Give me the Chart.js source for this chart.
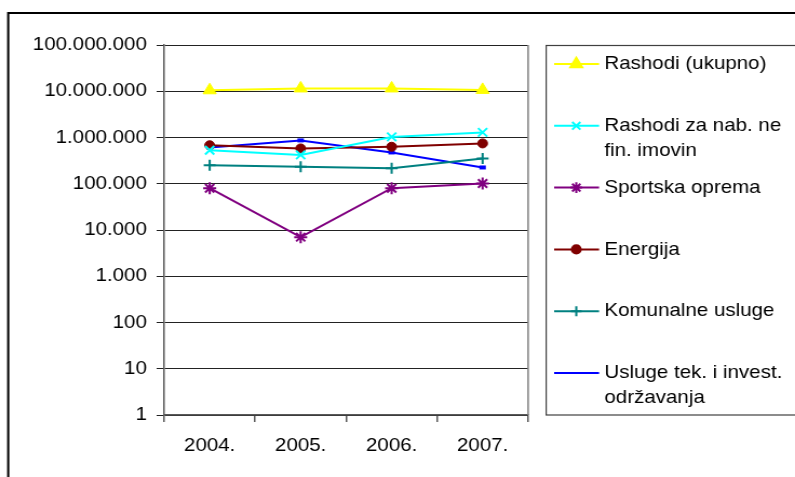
<!DOCTYPE html>
<html>
<head>
<meta charset="utf-8">
<script src="https://cdn.jsdelivr.net/npm/chart.js@4/dist/chart.umd.min.js"></script>
<style>
  body { margin: 0; background: #fff; overflow: hidden; }
  #wrap { width: 736px; height: 477px; transform: scaleX(1.0802); transform-origin: 0 0; }
</style>
</head>
<body>
<div id="wrap"><canvas id="myChart" width="736" height="477"></canvas></div>
<script>
// data
const categories = ['2004.', '2005.', '2006.', '2007.'];
const yTicks = [1, 10, 100, 1000, 10000, 100000, 1000000, 10000000, 100000000];

const rashodi = [10500000, 11500000, 11500000, 10700000];
const rashodiNab = [530000, 420000, 1030000, 1290000];
const sportska = [80000, 7000, 80000, 101000];
const energija = [680000, 580000, 630000, 745000];
const komunalne = [252000, 232000, 217000, 352000];
const usluge = [610000, 865000, 475000, 225000];

const seriesNames = ['Rashodi (ukupno)', 'Rashodi za nab. ne fin. imovin', 'Sportska oprema',
  'Energija', 'Komunalne usluge', 'Usluge tek. i invest. održavanja'];

const FONT = 'Liberation Sans, Arial, sans-serif';

function fmt(v) {
  return v.toString().replace(/\B(?=(\d{3})+(?!\d))/g, '.');
}

function ds(i, data, color, style, radius, bw) {
  return {
    label: seriesNames[i],
    data: data,
    borderColor: color,
    backgroundColor: color,
    borderWidth: 2,
    pointStyle: style,
    pointRadius: radius,
    pointHoverRadius: radius,
    pointBorderColor: color,
    pointBackgroundColor: color,
    pointBorderWidth: bw,
    tension: 0
  };
}

// frame + plot border
const framePlugin = {
  id: 'frame',
  beforeDraw(chart) {
    const c = chart.ctx;
    c.save();
    c.fillStyle = '#fff';
    c.fillRect(0, 0, chart.width, chart.height);
    c.strokeStyle = '#000';
    c.lineWidth = 2;
    c.beginPath();
    c.moveTo(7.6, 490);
    c.lineTo(7.6, 13);
    c.lineTo(760, 13);
    c.stroke();
    c.restore();
  },
  beforeDatasetsDraw(chart) {
    const a = chart.chartArea, c = chart.ctx;
    c.save();
    c.strokeStyle = '#808080';
    c.lineWidth = 1.5;
    c.beginPath();
    c.moveTo(a.right, a.top);
    c.lineTo(a.right, a.bottom);
    c.stroke();
    c.restore();
  }
};

// legend in a box on the right
const legendPlugin = {
  id: 'boxLegend',
  afterDraw(chart) {
    const c = chart.ctx;
    c.save();
    c.strokeStyle = '#404040';
    c.lineWidth = 1.2;
    c.strokeRect(505.6, 45.5, 300, 369.5);
    c.font = '19px ' + FONT;
    c.textBaseline = 'middle';
    c.fillStyle = '#000';
    chart.data.datasets.forEach((d, i) => {
      const y = 64 + i * 61.8;
      c.strokeStyle = d.borderColor;
      c.fillStyle = d.borderColor;
      c.lineWidth = 2;
      c.beginPath();
      c.moveTo(513, y);
      c.lineTo(554.6, y);
      c.stroke();
      Chart.helpers.drawPoint(c, {
        pointStyle: d.pointStyle, radius: d.pointRadius * 0.9, rotation: 0,
        borderWidth: d.pointBorderWidth
      }, 533.5, y);
      // wrap label
      c.fillStyle = '#000';
      const words = d.label.split(' ');
      let line = '', lines = [];
      words.forEach(w => {
        const t = line ? line + ' ' + w : w;
        if (c.measureText(t).width > 175 && line) { lines.push(line); line = w; }
        else line = t;
      });
      lines.push(line);
      lines.forEach((l, k) => c.fillText(l, 559.5, y + k * 24.5));
    });
    c.restore();
  }
};

new Chart(document.getElementById('myChart'), {
  type: 'line',
  data: {
    labels: categories,
    datasets: [
      ds(0, rashodi, '#FFFF00', 'triangle', 7, 1),
      ds(1, rashodiNab, '#00FFFF', 'crossRot', 6, 2),
      ds(2, sportska, '#800080', 'star', 6, 2),
      ds(3, energija, '#800000', 'circle', 4.5, 1),
      ds(4, komunalne, '#008080', 'cross', 5.5, 2),
      ds(5, usluge, '#0000FF', 'line', 3, 4)
    ]
  },
  options: {
    responsive: false,
    animation: false,
    devicePixelRatio: 1,
    layout: { padding: { top: 45, right: 247.1, left: 0, bottom: 0 } },
    plugins: { legend: { display: false }, tooltip: { enabled: false } },
    scales: {
      x: {
        offset: true,
        grid: { offset: true, drawOnChartArea: false, tickLength: 7, color: '#595959', lineWidth: 1.5 },
        border: { color: '#595959', width: 1.5 },
        ticks: { color: '#000', font: { family: FONT, size: 19 }, padding: 12, maxRotation: 0 },
        afterFit(s) { s.height = 62; }
      },
      y: {
        type: 'logarithmic',
        min: 1,
        max: 100000000,
        afterBuildTicks(s) { s.ticks = yTicks.map(v => ({ value: v })); },
        afterFit(s) { s.width = 152; },
        grid: { color: '#222', lineWidth: 1, tickLength: 7 },
        border: { color: '#595959', width: 1.5 },
        ticks: {
          color: '#000', font: { family: FONT, size: 19 }, padding: 9,
          callback: v => fmt(v)
        }
      }
    }
  },
  plugins: [framePlugin, legendPlugin]
});
</script>
</body>
</html>
